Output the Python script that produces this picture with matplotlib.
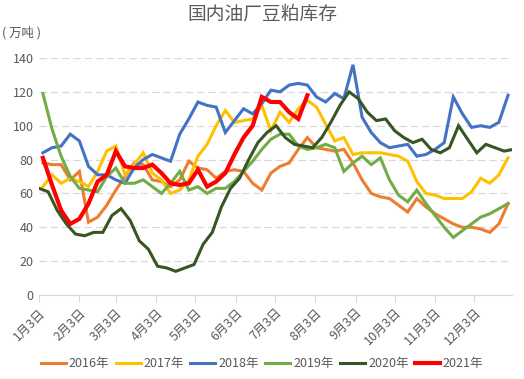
import numpy as np
import matplotlib
matplotlib.use("Agg")
import matplotlib.pyplot as plt

plt.rcParams["font.family"] = ["Noto Sans CJK SC", "DejaVu Sans"]

# weekly soybean meal stocks, 10k tonnes
Y2016 = [78, 77, 77, 68, 73, 43, 46, 53, 62, 70, 78, 77, 68, 67, 64, 68, 79, 75,
         74, 69, 73, 74, 73, 66, 62, 72, 76, 78, 86, 93, 87, 86, 85, 86, 78, 68,
         60, 58, 57, 53, 49, 57, 52, 48, 45, 42, 40, 40, 39, 37, 42, 54]
Y2017 = [64, 71, 66, 69, 67, 64, 73, 85, 88, 71, 77, 84, 72, 68, 60, 62, 68, 82,
         89, 100, 109, 102, 103, 104, 112, 97, 108, 102, 110, 115, 111, 101, 91, 93,
         83, 84, 84, 84, 83, 82, 79, 67, 60, 59, 57, 57, 57, 61, 69, 66, 71, 81]
Y2018 = [84, 87, 88, 95, 91, 76, 71, 71, 68, 66, 75, 80, 83, 81, 79, 95, 104, 114,
         112, 111, 96, 103, 110, 107, 113, 121, 120, 124, 125, 124, 117, 114, 119,
         116, 136, 105, 96, 90, 87, 88, 89, 82, 83, 86, 90, 117, 107, 99, 100, 99,
         102, 118]
Y2019 = [119, 98, 82, 70, 63, 62, 61, 70, 75, 66, 66, 68, 64, 60, 66, 73, 62, 64,
         60, 63, 63, 67, 73, 79, 86, 92, 95, 95, 88, 86, 87, 89, 87, 73, 78, 82, 77,
         81, 68, 59, 55, 62, 54, 47, 40, 34, 38, 42, 46, 48, 51, 54]
Y2020 = [63, 61, 50, 42, 36, 35, 37, 37, 47, 51, 44, 32, 27, 17, 16, 14, 16, 18,
         30, 37, 52, 63, 69, 80, 90, 96, 100, 93, 89, 88, 87, 93, 102, 112, 120, 116,
         108, 103, 104, 97, 93, 90, 92, 86, 84, 87, 100, 92, 84, 89, 87, 85, 86]
Y2021 = [81, 65, 50, 42, 45, 54, 67, 71, 85, 76, 75, 75, 77, 72, 66, 65, 66, 74,
         64, 67, 72, 83, 93, 100, 117, 114, 114, 108, 104, 118]

YEARS = ["2016年", "2017年", "2018年", "2019年", "2020年", "2021年"]
SERIES = [Y2016, Y2017, Y2018, Y2019, Y2020, Y2021]
START_DAY = [6, 6, 6, 6, 3, 6]  # day of year of the first weekly reading
COLORS = ["#ED7D31", "#FFC000", "#4472C4", "#70AD47", "#375623", "#FF0000"]

MONTH_TICKS = [3, 34, 62, 93, 123, 154, 184, 215, 246, 276, 307, 337]
MONTH_LABELS = [f"{m}月3日" for m in range(1, 13)]

GREY = "#595959"

fig = plt.figure(figsize=(5.24, 3.79), dpi=100)
ax = fig.add_axes([0.0744, 0.2216, 0.9026, 0.6254])

for name, vals, start, col in zip(YEARS, SERIES, START_DAY, COLORS):
    days = start + 7 * np.arange(len(vals))
    lw = 3.0 if name == "2021年" else 2.2
    ax.plot(days, vals, color=col, linewidth=lw, label=name,
            solid_joinstyle="miter")

ax.set_xlim(3, 366)
ax.set_ylim(0, 140)
ax.set_yticks(range(0, 141, 20))
ax.grid(axis="y", color="#D9D9D9", linestyle=(0, (6, 3)), linewidth=0.9)
ax.set_axisbelow(True)

ax.set_xticks(MONTH_TICKS)
ax.set_xticklabels(MONTH_LABELS, rotation=45, ha="right", va="top",
                   rotation_mode="anchor", fontsize=9, color=GREY)
ax.tick_params(axis="x", length=5, color="#D9D9D9", pad=3)
ax.tick_params(axis="y", length=0, labelsize=9, labelcolor=GREY, pad=4)

for s in ["left", "right", "top"]:
    ax.spines[s].set_visible(False)
ax.spines["bottom"].set_color("#D9D9D9")

fig.text(0.5, 0.962, "国内油厂豆粕库存", ha="center", va="center",
         fontsize=13.5, color=GREY)
fig.text(0.004, 0.913, "( 万吨 )", ha="left", va="center", fontsize=9,
         color=GREY)

fig.legend(loc="center", bbox_to_anchor=(0.5, 0.04), ncol=6, frameon=False,
           fontsize=9, handlelength=2.0, columnspacing=0.5, handletextpad=0.25,
           labelcolor=GREY)

fig.savefig("out.png", dpi=100)
